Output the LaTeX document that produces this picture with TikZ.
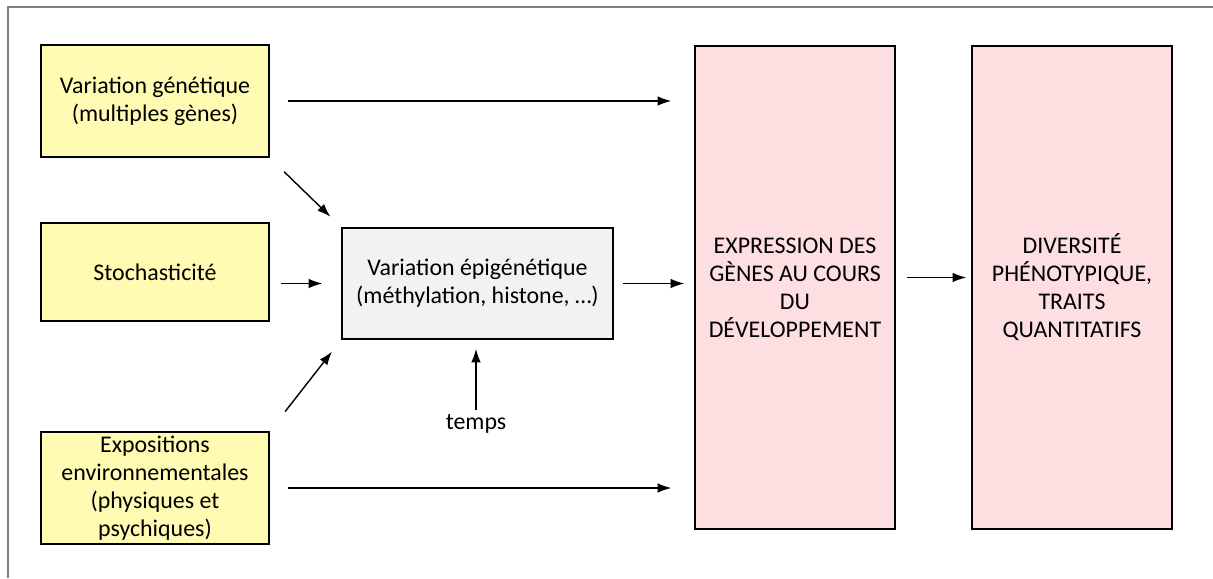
\documentclass[tikz,border=0pt]{standalone}
\usepackage{fontspec}
\setmainfont{Carlito}
\usetikzlibrary{arrows.meta}
\definecolor{jaune}{HTML}{FFFBB3}
\definecolor{rose}{HTML}{FDDEE1}
\definecolor{gris}{HTML}{F2F2F2}
\begin{document}
\begin{tikzpicture}[>={Latex[length=2.7mm,width=1.9mm]}, x=0.02cm, y=-0.02cm,
    boite/.style={draw, line width=0.9pt, align=center, inner sep=1pt,
      font=\fontsize{13.6}{15.9}\selectfont},
    source/.style={boite, fill=jaune, minimum width=4.56cm, minimum height=2.24cm},
    grand/.style={boite, fill=rose, minimum width=4cm, minimum height=9.66cm},
    fleche/.style={->, line width=0.8pt}]
    \useasboundingbox (0,0) rectangle (1213,578);
    % cadre
    \draw[gray, line width=1pt] (8,578) -- (8,7) -- (1213,7);
    % sources
    \node[source] (gen) at (155,101) {Variation génétique\\(multiples gènes)};
    \node[source, minimum height=1.96cm] (sto) at (155,272) {Stochasticité};
    \node[source] (expo) at (155,488) {Expositions\\environnementales\\(physiques et\\psychiques)};
    % epigenetique
    \node[boite, fill=gris, minimum width=5.42cm, minimum height=2.22cm] (epi) at (477.5,283.5)
      {Variation épigénétique\\(méthylation, histone, …)};
    \node[font=\fontsize{13.6}{15.9}\selectfont, inner sep=1pt] (temps) at (476,424) {temps};
    % grandes boites
    \node[grand] (expr) at (795,287.5) {EXPRESSION DES\\GÈNES AU COURS\\DU\\DÉVELOPPEMENT};
    \node[grand] (div) at (1072,287.5) {DIVERSITÉ\\PHÉNOTYPIQUE,\\TRAITS\\QUANTITATIFS};
    % fleches
    \draw[fleche, shorten <=0.36cm, shorten >=0.46cm] (gen.east) -- (gen.east -| expr.west);
    \draw[fleche, shorten <=0.4cm, shorten >=0.3cm] (gen.south east) -- (epi.north west);
    \draw[fleche, shorten <=0.22cm, shorten >=0.38cm] (sto.east |- epi.west) -- (epi.west);
    \draw[fleche, shorten <=0.5cm, shorten >=0.3cm] (expo.north east) -- (epi.south west);
    \draw[fleche, shorten <=0.36cm, shorten >=0.46cm] (expo.east) -- (expo.east -| expr.west);
    \draw[fleche, shorten <=0.18cm, shorten >=0.2cm] (epi.east) -- (epi.east -| expr.west);
    \draw[fleche, shorten <=0.04cm, shorten >=0.18cm] (temps.north) -- (temps.north |- epi.south);
    \draw[fleche, shorten <=0.22cm, shorten >=0.1cm] ([yshift=0.2cm]expr.east) -- ([yshift=0.2cm]div.west);
\end{tikzpicture}
\end{document}
